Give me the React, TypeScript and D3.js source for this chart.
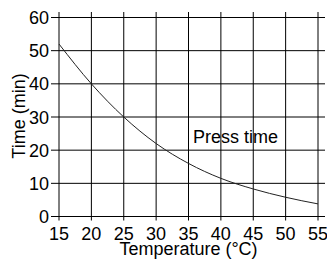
import { useEffect, useRef } from "react";
import * as d3 from "d3";

// 온도별 프레스 시간 데이터
const temps = [15, 20, 25, 30, 35, 40, 45, 50, 55];
const pressTime = [52, 40, 30, 22, 16, 11.5, 8.3, 5.8, 3.8];
const xTicks = [15, 20, 25, 30, 35, 40, 45, 50, 55];
const yTicks = [0, 10, 20, 30, 40, 50, 60];

const App = () => {
  const svgRef = useRef<SVGSVGElement>(null);

  useEffect(() => {
    if (!svgRef.current) return;
    const svg = d3.select(svgRef.current);
    svg.selectAll("*").remove();

    const width = 327;
    const height = 260;
    const margin = { top: 17.5, right: 9, bottom: 43.5, left: 59 };
    const font = "Liberation Sans, Arial, sans-serif";

    svg.attr("width", width).attr("height", height);

    const xScale = d3.scaleLinear().domain([15, 55]).range([margin.left, width - margin.right]);
    const yScale = d3.scaleLinear().domain([0, 60]).range([height - margin.bottom, margin.top]);

    const [x0, x1] = xScale.range();
    const [y0, y1] = yScale.range();

    // 격자선 (눈금 포함)
    svg.append("g")
      .selectAll("line")
      .data(xTicks)
      .join("line")
      .attr("x1", (d) => xScale(d))
      .attr("x2", (d) => xScale(d))
      .attr("y1", y1 - 5.5)
      .attr("y2", y0 + 4)
      .attr("stroke", "#000")
      .attr("stroke-width", 1);

    svg.append("g")
      .selectAll("line")
      .data(yTicks)
      .join("line")
      .attr("x1", x0 - 8)
      .attr("x2", x1 + 7)
      .attr("y1", (d) => yScale(d))
      .attr("y2", (d) => yScale(d))
      .attr("stroke", "#000")
      .attr("stroke-width", 1);

    // x축 눈금 라벨
    svg.append("g")
      .selectAll("text")
      .data(xTicks)
      .join("text")
      .attr("x", (d) => xScale(d))
      .attr("y", 240)
      .attr("text-anchor", "middle")
      .style("font-family", font)
      .style("font-size", "18px")
      .text((d) => d);

    // y축 눈금 라벨
    svg.append("g")
      .selectAll("text")
      .data(yTicks)
      .join("text")
      .attr("x", 49)
      .attr("y", (d) => yScale(d) + 6.5)
      .attr("text-anchor", "end")
      .style("font-family", font)
      .style("font-size", "18px")
      .text((d) => d);

    // 축 제목
    svg.append("text")
      .attr("x", (x0 + x1) / 2)
      .attr("y", 255)
      .attr("text-anchor", "middle")
      .style("font-family", font)
      .style("font-size", "18px")
      .text("Temperature (°C)");

    svg.append("text")
      .attr("transform", "rotate(-90)")
      .attr("x", -116)
      .attr("y", 25)
      .attr("text-anchor", "middle")
      .style("font-family", font)
      .style("font-size", "18px")
      .text("Time (min)");

    // 곡선
    const line = d3
      .line<number>()
      .x((d, i) => xScale(temps[i]))
      .y((d) => yScale(d))
      .curve(d3.curveMonotoneX);

    svg.append("path")
      .attr("d", line(pressTime))
      .attr("fill", "none")
      .attr("stroke", "#222")
      .attr("stroke-width", 1);

    svg.append("text")
      .attr("x", 193)
      .attr("y", 143)
      .style("font-family", font)
      .style("font-size", "18px")
      .text("Press time");
  }, []);

  return (
    <div style={{ position: "fixed", left: 0, top: 0, background: "#fff" }}>
      <svg ref={svgRef} style={{ display: "block" }}></svg>
    </div>
  );
};

export default App;
